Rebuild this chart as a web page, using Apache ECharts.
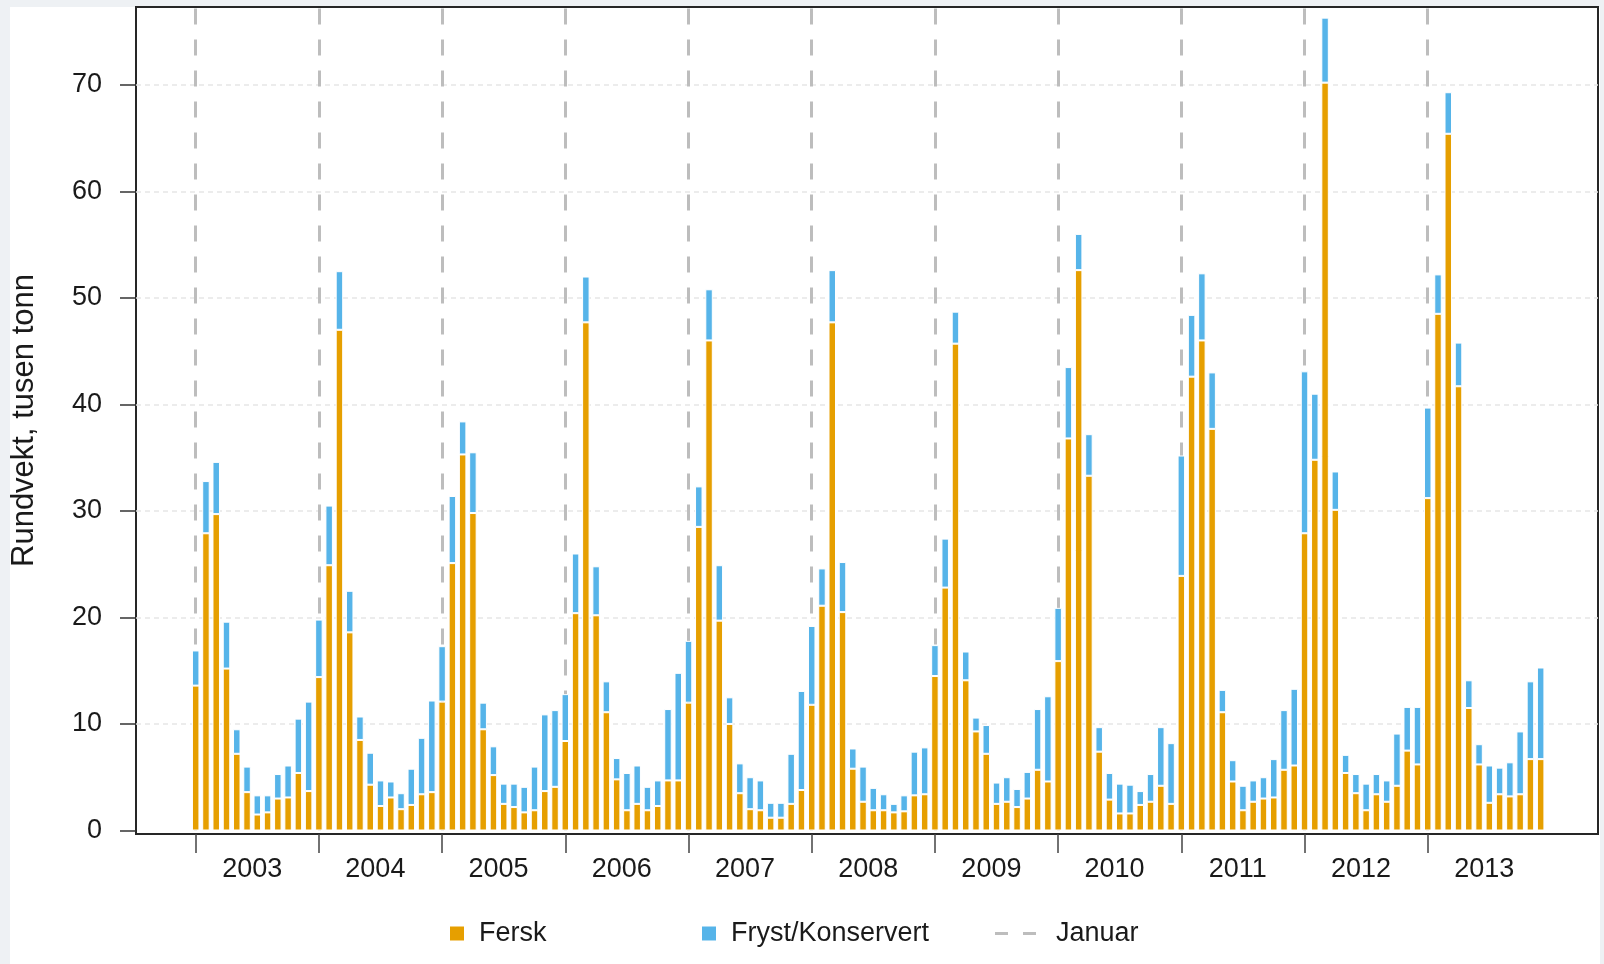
<!DOCTYPE html>
<html>
<head>
<meta charset="utf-8">
<script src="https://cdn.jsdelivr.net/npm/echarts@6/dist/echarts.min.js"></script>
<style>
html,body{margin:0;padding:0;background:#eef1f4;}
#c{width:1604px;height:964px;}
</style>
</head>
<body>
<div id="c"></div>
<script>
// ---- data (thousand tonnes, monthly Jan 2003 - Dec 2013) ----
const years = [2003, 2004, 2005, 2006, 2007, 2008, 2009, 2010, 2011, 2012, 2013];
const monthsPerYear = 12;
const yTicks = [0, 10, 20, 30, 40, 50, 60, 70];
const fersk = [
  13.6, 27.9, 29.7, 15.2, 7.2, 3.6, 1.5, 1.7, 3.0, 3.1, 5.4, 3.7,
  14.4, 24.9, 47.0, 18.6, 8.5, 4.3, 2.3, 3.1, 2.0, 2.4, 3.4, 3.6,
  12.1, 25.1, 35.3, 29.8, 9.5, 5.2, 2.5, 2.2, 1.7, 1.9, 3.7, 4.1,
  8.4, 20.4, 47.7, 20.2, 11.1, 4.8, 1.9, 2.5, 1.9, 2.3, 4.7, 4.7,
  12.0, 28.5, 46.0, 19.7, 10.0, 3.5, 2.0, 1.9, 1.2, 1.2, 2.5, 3.8,
  11.8, 21.1, 47.7, 20.5, 5.8, 2.7, 1.9, 1.9, 1.7, 1.8, 3.3, 3.4,
  14.5, 22.8, 45.7, 14.1, 9.3, 7.2, 2.5, 2.7, 2.2, 3.0, 5.7, 4.6,
  15.9, 36.8, 52.6, 33.3, 7.4, 2.9, 1.6, 1.6, 2.4, 2.7, 4.2, 2.5,
  23.9, 42.6, 46.0, 37.7, 11.1, 4.6, 1.9, 2.7, 3.0, 3.1, 5.7, 6.1,
  27.9, 34.8, 70.2, 30.1, 5.4, 3.5, 1.9, 3.4, 2.7, 4.2, 7.5, 6.2,
  31.2, 48.5, 65.4, 41.7, 11.5, 6.2, 2.6, 3.4, 3.2, 3.4, 6.7, 6.7
];
const fryst = [
  3.3, 4.9, 4.9, 4.4, 2.3, 2.4, 1.8, 1.6, 2.3, 3.0, 5.1, 8.4,
  5.4, 5.6, 5.5, 3.9, 2.2, 3.0, 2.4, 1.5, 1.5, 3.4, 5.3, 8.6,
  5.2, 6.3, 3.1, 5.7, 2.5, 2.7, 1.9, 2.2, 2.4, 4.1, 7.2, 7.2,
  4.4, 5.6, 4.3, 4.6, 2.9, 2.0, 3.5, 3.6, 2.2, 2.4, 6.7, 10.1,
  5.8, 3.8, 4.8, 5.2, 2.5, 2.8, 3.0, 2.8, 1.4, 1.4, 4.7, 9.3,
  7.4, 3.5, 4.9, 4.7, 1.9, 3.3, 2.1, 1.5, 0.8, 1.5, 4.1, 4.4,
  2.9, 4.6, 3.0, 2.7, 1.3, 2.7, 2.0, 2.3, 1.7, 2.5, 5.7, 8.0,
  5.0, 6.7, 3.4, 3.9, 2.3, 2.5, 2.8, 2.7, 1.3, 2.6, 5.5, 5.7,
  11.3, 5.8, 6.3, 5.3, 2.1, 2.0, 2.3, 2.0, 2.0, 3.6, 5.6, 7.2,
  15.2, 6.2, 6.1, 3.6, 1.7, 1.8, 2.5, 1.9, 2.0, 4.9, 4.1, 5.4,
  8.5, 3.7, 3.9, 4.1, 2.6, 1.9, 3.5, 2.5, 3.2, 5.9, 7.3, 8.6
];
const seriesNames = ['Fersk', 'Fryst/Konservert', 'Januar'];
const yTitle = 'Rundvekt, tusen tonn';

// ---- derived ----
const monthCats = [];
years.forEach(y => { for (let m = 1; m <= monthsPerYear; m++) monthCats.push(y + '-' + (m < 10 ? '0' + m : m)); });
const janIdx = years.map((y, k) => k * monthsPerYear);
const yearLabelPos = years.map((y, k) => k * monthsPerYear + 5.5);

// layout (pixels)
const FRAME = {left: 136, top: 7, width: 1462, height: 827};
const BAND = 10.267;               // one month
const FIRST_CENTER = 195.7;        // centre of Jan 2003
const PLOT_BOTTOM = 830.5;         // y of value 0
const Y_MAX = 77.3;
const unitPx = (PLOT_BOTTOM - FRAME.top) / Y_MAX;
const Y_MIN_FRAME = -(FRAME.top + FRAME.height - PLOT_BOTTOM) / unitPx;
const X_MIN = (FRAME.left - FIRST_CENTER) / BAND;
const X_MAX = (FRAME.left + FRAME.width - FIRST_CENTER) / BAND;

const FONT = "'Liberation Sans', Arial, sans-serif";
const TXT = '#1a1a1a';

const chart = echarts.init(document.getElementById('c'), null, {renderer: 'canvas', width: 1604, height: 964});
const legendText = (pad) => ({fontSize: 27, color: TXT, fontFamily: FONT, padding: [0, 0, 0, pad]});

chart.setOption({
  animation: false,
  backgroundColor: '#eef1f4',
  textStyle: {fontFamily: FONT},
  graphic: [{
    type: 'rect', z: -100, silent: true,
    shape: {x: 10, y: 7, width: 1590, height: 957},
    style: {fill: '#ffffff'}
  }],
  grid: [
    {left: FRAME.left, top: FRAME.top, width: FRAME.width, height: FRAME.height,
     show: true, borderColor: '#262626', borderWidth: 2, backgroundColor: 'transparent'},
    {left: FIRST_CENTER - BAND / 2, top: FRAME.top, width: BAND * monthCats.length, height: PLOT_BOTTOM - FRAME.top}
  ],
  xAxis: [
    {
      gridIndex: 0, type: 'value', min: X_MIN, max: X_MAX,
      axisLine: {show: false, onZero: false}, splitLine: {show: false},
      axisTick: {show: true, customValues: janIdx, length: 19, lineStyle: {color: '#444', width: 1.5}},
      axisLabel: {
        customValues: yearLabelPos, fontSize: 27, color: TXT, margin: 22,
        formatter: (v) => String(years[Math.round((v - 5.5) / monthsPerYear)])
      }
    },
    {gridIndex: 1, type: 'category', data: monthCats, show: false}
  ],
  yAxis: [
    {
      gridIndex: 0, type: 'value', min: Y_MIN_FRAME, max: Y_MAX,
      axisLine: {show: false, onZero: false},
      axisTick: {show: true, customValues: yTicks, length: 16, lineStyle: {color: '#333', width: 1.5}},
      axisLabel: {customValues: yTicks, fontSize: 27, color: TXT, margin: 34},
      splitLine: {show: true, showMinLine: false, lineStyle: {color: '#e6e6e6', width: 1.5, type: [5, 4]}},
      name: yTitle, nameLocation: 'middle', nameGap: 96,
      nameTextStyle: {fontSize: 31, color: TXT}
    },
    {gridIndex: 1, type: 'value', min: 0, max: Y_MAX, show: false}
  ],
  legend: [
    {data: [{name: seriesNames[0], icon: 'rect'}], left: 443, top: 915, itemWidth: 16, itemHeight: 16, selectedMode: false, textStyle: legendText(9)},
    {data: [{name: seriesNames[1], icon: 'rect'}], left: 695, top: 915, itemWidth: 16, itemHeight: 16, selectedMode: false, textStyle: legendText(9)},
    {data: [{name: seriesNames[2], icon: 'path://M0,0H13V3H0ZM28,0H41V3H28Z'}], left: 990, top: 915, itemWidth: 41, itemHeight: 3, selectedMode: false, textStyle: legendText(15), itemStyle: {borderWidth: 0}}
  ],
  series: [
    {
      name: seriesNames[2], type: 'line', xAxisIndex: 1, yAxisIndex: 1, data: [], z: 1,
      itemStyle: {color: '#bdbdbd'}, lineStyle: {color: '#bdbdbd'},
      markLine: {
        z: 1, silent: true, symbol: ['none', 'none'], label: {show: false}, animation: false,
        lineStyle: {color: '#bdbdbd', width: 3, type: [16, 15]},
        data: janIdx.map(v => ({xAxis: v}))
      }
    },
    {
      name: seriesNames[0], type: 'bar', stack: 'total', xAxisIndex: 1, yAxisIndex: 1, barWidth: 7.5, z: 3,
      data: fersk,
      itemStyle: {color: '#E69F00', borderColor: '#ffffff', borderWidth: 1}
    },
    {
      name: seriesNames[1], type: 'bar', stack: 'total', xAxisIndex: 1, yAxisIndex: 1, barWidth: 7.5, z: 3,
      data: fryst,
      itemStyle: {color: '#56B4E9', borderColor: '#ffffff', borderWidth: 1}
    }
  ]
});
</script>
</body>
</html>
